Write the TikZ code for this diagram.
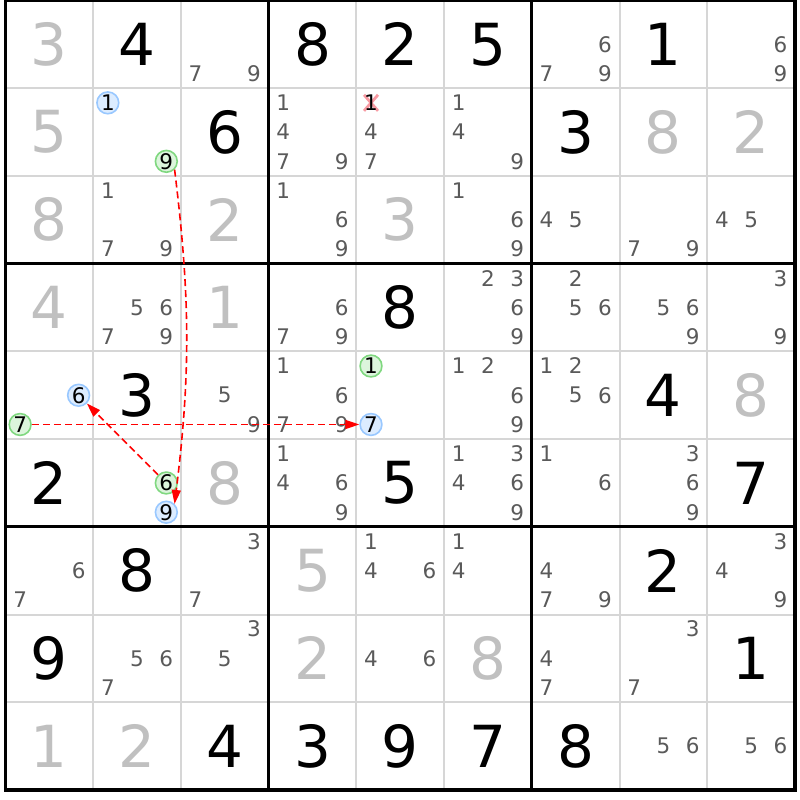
\documentclass[tikz,border=0pt]{standalone}
\usepackage{fontspec}
\setmainfont{DejaVu Sans}
\usepackage{xcolor}
\usepackage{tikz}
\usetikzlibrary{arrows.meta, calc}
\definecolor{solvedgray}{HTML}{C0C0C0}
\definecolor{candgray}{HTML}{5A5A5A}
\definecolor{thingrid}{HTML}{D6D6D6}
\definecolor{onfill}{HTML}{DCECFF}
\definecolor{ondraw}{HTML}{99C8FF}
\definecolor{offfill}{HTML}{DCF5DC}
\definecolor{offdraw}{HTML}{80D880}
\definecolor{crossred}{HTML}{F89AA2}

\tikzset{
  given/.style={font=\fontsize{58}{60}\selectfont, text=black, inner sep=0pt},
  solved/.style={font=\fontsize{58}{60}\selectfont, text=solvedgray, inner sep=0pt},
  cand/.style={font=\fontsize{21.5}{23}\selectfont, text=candgray, inner sep=0pt},
  candon/.style={cand, text=black, circle, minimum size=21.8pt,
    line width=1.6pt, fill=onfill, draw=ondraw},
  candoff/.style={cand, text=black, circle, minimum size=21.8pt,
    line width=1.6pt, fill=offfill, draw=offdraw},
  link/.style={red, line width=1.6pt, dash pattern=on 7pt off 4pt,
    -{Triangle[length=14pt, width=9pt]}}
}

\begin{document}
\begin{tikzpicture}[x=87.72pt, y=-87.72pt]
        \useasboundingbox (-0.0627, -0.0057) rectangle (9.0572, 9.1142);
        \fill[white] (-0.0627, -0.0057) rectangle (9.0572, 9.1142);
        % Thin cell lines
        \foreach \i in {1,2,4,5,7,8} {
          \draw[thingrid, line width=2pt] (\i, 0) -- (\i, 9);
          \draw[thingrid, line width=2pt] (0, \i) -- (9, \i);
        }
        % Box lines
        \foreach \i in {3,6} {
          \draw[black, line width=3pt] (\i, 0) -- (\i, 9);
          \draw[black, line width=3pt] (0, \i) -- (9, \i);
        }
        \draw[black, line width=3.5pt] (0, 0) rectangle (9, 9);
        % Given digits (row/col/digit)
        \foreach \r/\c/\d in {1/2/4, 1/4/8, 1/5/2, 1/6/5, 1/8/1,
            2/3/6, 2/7/3, 4/5/8, 5/2/3, 5/8/4, 6/1/2, 6/5/5, 6/9/7,
            7/2/8, 7/8/2, 8/1/9, 8/9/1,
            9/3/4, 9/4/3, 9/5/9, 9/6/7, 9/7/8}
          \node[given] (g\r\c) at (\c-0.5, \r-0.5) {\d};
        % Solved digits
        \foreach \r/\c/\d in {1/1/3, 2/1/5, 2/8/8, 2/9/2, 3/1/8, 3/3/2,
            3/5/3, 4/1/4, 4/3/1, 5/9/8, 6/3/8, 7/4/5, 8/4/2, 8/6/8,
            9/1/1, 9/2/2}
          \node[solved] (s\r\c) at (\c-0.5, \r-0.5) {\d};
        % Candidates (row/col/digits)
        \foreach \r/\c/\ds in {1/3/{7,9}, 1/7/{6,7,9}, 1/9/{6,9},
            2/4/{1,4,7,9}, 2/5/{4,7}, 2/6/{1,4,9},
            3/2/{1,7,9}, 3/4/{1,6,9}, 3/6/{1,6,9}, 3/7/{4,5}, 3/8/{7,9},
            3/9/{4,5},
            4/2/{5,6,7,9}, 4/4/{6,7,9}, 4/6/{2,3,6,9}, 4/7/{2,5,6},
            4/8/{5,6,9}, 4/9/{3,9},
            5/3/{5,9}, 5/4/{1,6,7,9}, 5/6/{1,2,6,9}, 5/7/{1,2,5,6},
            6/4/{1,4,6,9}, 6/6/{1,3,4,6,9}, 6/7/{1,6}, 6/8/{3,6,9},
            7/1/{6,7}, 7/3/{3,7}, 7/5/{1,4,6}, 7/6/{1,4}, 7/7/{4,7,9},
            7/9/{3,4,9},
            8/2/{5,6,7}, 8/3/{3,5}, 8/5/{4,6}, 8/7/{4,7}, 8/8/{3,7},
            9/8/{5,6}, 9/9/{5,6}} {
          \foreach \d in \ds {
            \pgfmathsetmacro\px{\c-1+(2*mod(\d-1,3)+1)/6}
            \pgfmathsetmacro\py{\r-1+(2*int((\d-1)/3)+1)/6}
            \node[cand] (n\r\c\d) at (\px, \py) {\d};
          }
        }
        % Eliminated candidate
        \coordinate (x251) at (4+1/6, 1+1/6);
        \draw[crossred, line width=2.8pt]
          ($(x251)+(-7pt,8pt)$) -- ($(x251)+(7pt,-8pt)$)
          ($(x251)+(-7pt,-8pt)$) -- ($(x251)+(7pt,8pt)$);
        \node[cand, text=black] (n251) at (x251) {1};
        % Chain candidates
        \node[candon]  (n221) at (1+1/6, 1+1/6) {1};
        \node[candoff] (n229) at (1+5/6, 1+5/6) {9};
        \node[candoff] (n626) at (1+5/6, 5+3/6) {6};
        \node[candon]  (n629) at (1+5/6, 5+5/6) {9};
        \node[candon]  (n516) at (5/6, 4+3/6) {6};
        \node[candoff] (n517) at (1/6, 4+5/6) {7};
        \node[candoff] (n551) at (4+1/6, 4+1/6) {1};
        \node[candon]  (n557) at (4+1/6, 4+5/6) {7};
        % Links
        \draw[link] (n229.-45) to[bend left=7] (n629.45);
        \draw[link] (n626) -- (n516);
        \draw[link] (n517) -- (n557);
      \end{tikzpicture}
\end{document}
